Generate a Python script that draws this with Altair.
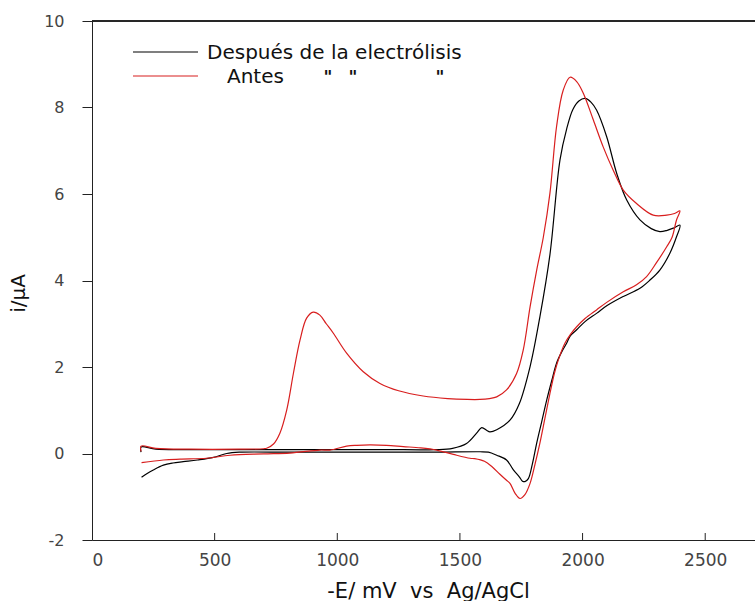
import altair as alt
import pandas as pd

# Cyclic voltammograms: potential (-E, mV vs Ag/AgCl) and current (µA), in scan order
despues_E = [200, 200, 260, 400, 600, 800, 1000, 1200, 1400, 1470, 1527, 1568, 1589, 1610,
             1622, 1650, 1704, 1742, 1786, 1826, 1867, 1908, 1935, 1960, 1985, 2010, 2035,
             2057, 2098, 2139, 2180, 2234, 2280, 2315, 2345, 2370, 2397,
             2383, 2356, 2315, 2275, 2234, 2166, 2100, 2057, 2010, 1976, 1950, 1935, 1915,
             1894, 1875, 1854, 1834, 1813, 1795, 1779, 1765, 1755, 1742, 1718, 1690, 1650,
             1616, 1582, 1400, 1200, 1000, 800, 600, 549, 495, 430, 372, 330, 291, 250, 225, 202]
despues_i = [0.03, 0.15, 0.10, 0.09, 0.09, 0.09, 0.09, 0.09, 0.09, 0.12, 0.23, 0.47, 0.60, 0.53,
             0.50, 0.55, 0.77, 1.15, 2.01, 3.16, 4.60, 6.79, 7.50, 7.95, 8.15, 8.21, 8.12,
             7.94, 7.33, 6.48, 5.86, 5.40, 5.20, 5.13, 5.16, 5.21, 5.28,
             5.01, 4.63, 4.24, 4.01, 3.82, 3.63, 3.42, 3.24, 3.05, 2.86, 2.72, 2.55, 2.35,
             2.09, 1.70, 1.24, 0.75, 0.24, -0.25, -0.58, -0.65, -0.64, -0.54, -0.38, -0.15, -0.04,
             0.03, 0.04, 0.03, 0.03, 0.03, 0.03, 0.03, 0.00, -0.09, -0.15, -0.19, -0.22, -0.27,
             -0.38, -0.46, -0.55]

antes_E = [200, 200, 260, 400, 600, 700, 712, 740, 766, 794, 821, 848, 875, 902, 929, 955,
           984, 1038, 1106, 1174, 1250, 1350, 1450, 1530, 1582, 1620, 1650, 1690, 1731, 1758,
           1786, 1813, 1840, 1867, 1894, 1921, 1949, 1976, 2003, 2044, 2084, 2125, 2166, 2220,
           2288, 2343, 2375, 2397,
           2383, 2365, 2343, 2300, 2261, 2220, 2166, 2100, 2057, 2010, 1976, 1950, 1928, 1901,
           1885, 1867, 1846, 1826, 1806, 1786, 1765, 1745, 1725, 1704, 1690, 1663, 1630, 1600,
           1560, 1541, 1473, 1405, 1340, 1269, 1200, 1133, 1080, 1038, 970, 929, 807, 700, 563,
           468, 359, 291, 202]
antes_i = [0.05, 0.17, 0.12, 0.10, 0.10, 0.11, 0.12, 0.22, 0.47, 1.01, 1.85, 2.62, 3.13, 3.27,
           3.20, 3.00, 2.78, 2.32, 1.89, 1.62, 1.45, 1.33, 1.27, 1.25, 1.25, 1.27, 1.31, 1.47,
           1.85, 2.39, 3.39, 4.24, 5.00, 6.02, 7.56, 8.40, 8.70, 8.60, 8.33, 7.71, 7.09, 6.55,
           6.09, 5.78, 5.51, 5.51, 5.55, 5.61,
           5.40, 5.00, 4.78, 4.40, 4.09, 3.90, 3.74, 3.50, 3.32, 3.12, 2.93, 2.75, 2.55, 2.16,
           1.85, 1.39, 0.80, 0.24, -0.25, -0.69, -0.95, -1.04, -0.92, -0.69, -0.62, -0.48,
           -0.30, -0.18, -0.12, -0.11, -0.02, 0.08, 0.13, 0.16, 0.19, 0.20, 0.19, 0.17, 0.08,
           0.08, 0.01, -0.01, -0.04, -0.11, -0.13, -0.15, -0.21]

series_names = ["Después de la electrólisis", "Antes"]
series_colors = ["#000000", "#d81e1e"]
x_ticks = [0, 500, 1000, 1500, 2000, 2500]
y_ticks = [-2, 0, 2, 4, 6, 8, 10]

FONT = "DejaVu Sans"
NB = "\u00a0"
W, H = 663, 519

frames = []
for name, es, cs in [(series_names[0], despues_E, despues_i), (series_names[1], antes_E, antes_i)]:
    frames.append(pd.DataFrame({"E": es, "i": cs, "serie": name, "orden": range(len(es))}))
df = pd.concat(frames, ignore_index=True)

x_scale = alt.Scale(domain=[0, 2703], nice=False, zero=False)
y_scale = alt.Scale(domain=[-2, 10], nice=False, zero=False)
plain_label = "'' + datum.value"

curves = alt.Chart(df).mark_line(strokeWidth=1.2, interpolate="catmull-rom").encode(
    x=alt.X("E:Q", scale=x_scale,
            axis=alt.Axis(values=x_ticks, ticks=False, labelPadding=12, labelFont=FONT,
                          labelFontSize=17, labelColor="#444", grid=False, labelExpr=plain_label,
                          domainColor="#222",
                          title=f"-E/ mV{NB}{NB}vs{NB}{NB}Ag/AgCl",
                          titleFont=FONT, titleFontSize=21, titleFontWeight="normal",
                          titleColor="#111", titleX=336, titleY=57,
                          titleBaseline="alphabetic", titleAnchor="start", titleAlign="center")),
    y=alt.Y("i:Q", scale=y_scale,
            axis=alt.Axis(values=y_ticks, tickSize=10, tickColor="#222", labelPadding=18,
                          labelFont=FONT, labelFontSize=16, labelColor="#444", grid=False,
                          labelExpr=plain_label,
                          domainColor="#222", title="i/µA", titleFont=FONT, titleFontSize=20,
                          titleFontWeight="normal", titleColor="#111", titleAngle=270,
                          titleX=-74, titleY=272, titleAlign="center",
                          titleBaseline="middle")),
    color=alt.Color("serie:N", scale=alt.Scale(domain=series_names, range=series_colors),
                    legend=None),
    detail="serie:N",
    order="orden:Q",
)

# inward ticks on the bottom axis
tick_df = pd.DataFrame({"E": x_ticks[1:]})
bottom_ticks = alt.Chart(tick_df).mark_rule(color="#222", strokeWidth=1).encode(
    x=alt.X("E:Q", scale=x_scale), y=alt.value(H - 7), y2=alt.value(H)
)

# frame line along the top of the plot
top_line = alt.Chart(tick_df).mark_rule(color="#222", strokeWidth=1.2).encode(
    x=alt.value(0), x2=alt.value(W), y=alt.value(0)
)

# legend block
leg_lines = []
for k, (name, col) in enumerate(zip(series_names, series_colors)):
    d = pd.DataFrame({"label": [name]})
    leg_lines.append(alt.Chart(d).mark_rule(color=col, strokeWidth=1.2).encode(
        x=alt.value(41), x2=alt.value(106), y=alt.value(31 + 24 * k)))
leg_texts = [
    alt.Chart(pd.DataFrame({"label": [series_names[0]]})).mark_text(
        font=FONT, fontSize=20, align="left", baseline="alphabetic", color="#111").encode(
        text="label:N", x=alt.value(115), y=alt.value(38)),
    alt.Chart(pd.DataFrame({"label": [series_names[1]]})).mark_text(
        font=FONT, fontSize=20, align="left", baseline="alphabetic", color="#111").encode(
        text="label:N", x=alt.value(135), y=alt.value(62)),
]
ditto_df = pd.DataFrame({"label": ['"', '"', '"'], "px": [236, 261, 348]})
ditto = alt.Chart(ditto_df).mark_text(
    font=FONT, fontSize=17, align="center", baseline="alphabetic", color="#111",
    fontWeight="bold").encode(text="label:N", x=alt.X("px:Q", scale=None), y=alt.value(62))

chart = alt.layer(curves, bottom_ticks, top_line, *leg_lines, *leg_texts, ditto).properties(
    width=W, height=H,
    autosize=alt.AutoSizeParams(type="none"),
    padding={"left": 92, "top": 21, "right": 0, "bottom": 61},
).configure_view(stroke=None).configure(background="white")

chart.save("out.html", embed_options={"renderer": "svg", "actions": False})
